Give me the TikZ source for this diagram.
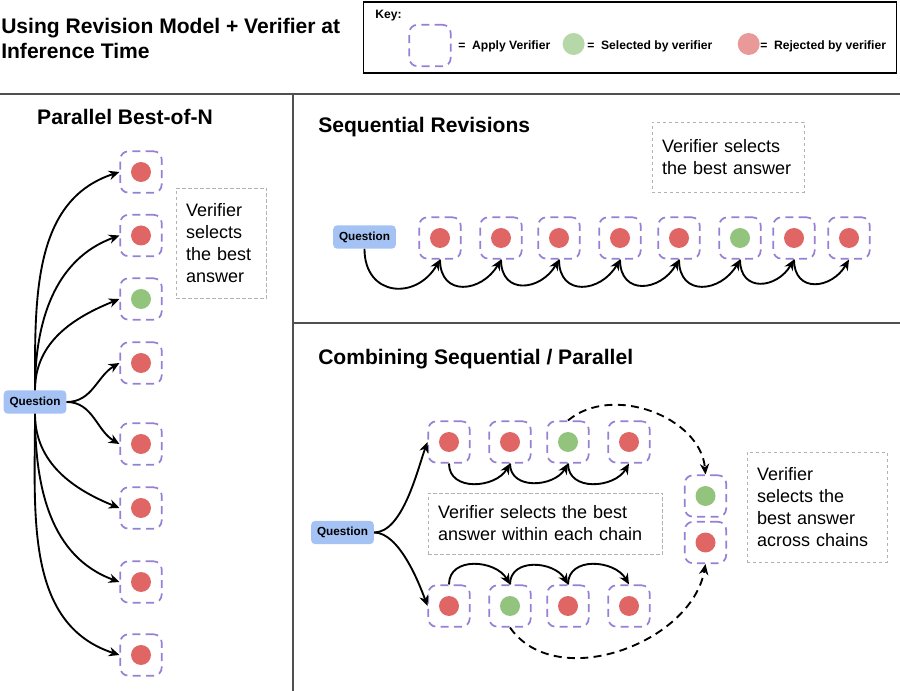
\documentclass[tikz,border=0pt]{standalone}
\usepackage{fontspec}
\setmainfont{Liberation Sans}
\usepackage{tikz}
\usetikzlibrary{arrows.meta}

\definecolor{vpurple}{RGB}{150,128,212}
\definecolor{rejred}{RGB}{224,102,102}
\definecolor{selgreen}{RGB}{147,196,125}
\definecolor{keyred}{RGB}{234,153,153}
\definecolor{keygreen}{RGB}{182,215,168}
\definecolor{qblue}{RGB}{164,194,244}
\definecolor{framegray}{RGB}{80,80,80}

\begin{document}
\begin{tikzpicture}[
    x=0.75pt, y=-0.75pt,
    vbox/.style={rectangle, draw=vpurple, line width=1.3pt, dash pattern=on 6pt off 4pt, rounded corners=6pt, minimum width=31pt, minimum height=31pt, inner sep=0pt},
    rej/.style={vbox, path picture={\fill[rejred] (path picture bounding box.center) circle (7.5pt);}},
    sel/.style={vbox, path picture={\fill[selgreen] (path picture bounding box.center) circle (7.5pt);}},
    question/.style={rectangle, fill=qblue, rounded corners=3pt, minimum width=47pt, minimum height=17.5pt, inner sep=0pt, font=\fontsize{8.8}{10}\selectfont\bfseries},
    note/.style={rectangle, draw=gray!60, line width=0.6pt, dash pattern=on 2.5pt off 2pt, align=left, inner xsep=7.5pt, font=\fontsize{13.5}{16.5}\selectfont},
    heading/.style={font=\fontsize{15.8}{18.75}\selectfont\bfseries, inner sep=0pt},
    keytext/.style={font=\fontsize{9.1}{11}\selectfont\bfseries, inner sep=0pt},
    frame/.style={draw=framegray, line width=1.1pt},
    arrow/.style={-{Stealth[length=8pt, width=7pt]}, line width=1.4pt},
    varrow/.style={arrow, dash pattern=on 6pt off 4pt}
]
\useasboundingbox (0,0) rectangle (900,691);

% title and key
\node[heading, align=left, anchor=north west] (title) at (1,18) {Using Revision Model + Verifier at\\Inference Time};
\draw[line width=0.8pt] (363.5,2) rectangle (896.5,73);
\node[keytext, anchor=base west] (key) at (375,19) {Key:};
\node[vbox] (kbox) at (430,45.5) {};
\node[keytext, anchor=base west] (kapply) at (458,50) {=~ Apply Verifier};
\node[circle, fill=keygreen, minimum size=16.5pt, inner sep=0pt] (kgreen) at (573.6,44) {};
\node[keytext, anchor=base west] (ksel) at (587,50) {=~ Selected by verifier};
\node[circle, fill=keyred, minimum size=16.5pt, inner sep=0pt] (kred) at (748.7,44) {};
\node[keytext, anchor=base west] (krej) at (760,50) {=~ Rejected by verifier};

% panels
\draw[frame] (0,94) -- (900,94);
\draw[frame] (293,94) -- (293,691);
\draw[frame] (293,323) -- (900,323);

% parallel best-of-n
\node[heading, anchor=base] (hp) at (125,125) {Parallel Best-of-N};
\node[question] (qp) at (35,402) {Question};
\node[rej] (p1) at (141,172) {};
\node[rej] (p2) at (141,235.5) {};
\node[sel] (p3) at (141,299) {};
\node[rej] (p4) at (141,363) {};
\node[rej] (p5) at (141,444) {};
\node[rej] (p6) at (141,508) {};
\node[rej] (p7) at (141,582) {};
\node[rej] (p8) at (141,655) {};
\node[note, text width=53pt, minimum height=82.5pt] (np) at (221.5,243) {Verifier\\selects\\the best\\answer};

\draw[arrow] (qp.north) to[out=90, in=198] (p1.west);
\draw[arrow] (qp.north) to[out=90, in=200] (p2.west);
\draw[arrow] (qp.north) to[out=90, in=202] (p3.west);
\draw[arrow] (qp.east) to[out=0, in=210] (p4.west);
\draw[arrow] (qp.east) to[out=0, in=150] (p5.west);
\draw[arrow] (qp.south) to[out=-90, in=158] (p6.west);
\draw[arrow] (qp.south) to[out=-90, in=160] (p7.west);
\draw[arrow] (qp.south) to[out=-90, in=162] (p8.west);

% sequential revisions
\node[heading, anchor=base west] (hs) at (318,133) {Sequential Revisions};
\node[note, text width=99pt, minimum height=52.5pt] (ns) at (728,157) {Verifier selects\\the best answer};
\node[question] (qs) at (364.5,237) {Question};
\node[rej] (s1) at (440,238) {};
\node[rej] (s2) at (501,238) {};
\node[rej] (s3) at (559,238) {};
\node[rej] (s4) at (620,238) {};
\node[rej] (s5) at (679,238) {};
\node[sel] (s6) at (740,238) {};
\node[rej] (s7) at (794,238) {};
\node[rej] (s8) at (849,238) {};

\draw[arrow] (qs.south) to[out=-90, in=-120, looseness=1.6] (s1.south);
\draw[arrow] (s1.south) to[out=-90, in=-120, looseness=1.6] (s2.south);
\draw[arrow] (s2.south) to[out=-90, in=-120, looseness=1.6] (s3.south);
\draw[arrow] (s3.south) to[out=-90, in=-120, looseness=1.6] (s4.south);
\draw[arrow] (s4.south) to[out=-90, in=-120, looseness=1.6] (s5.south);
\draw[arrow] (s5.south) to[out=-90, in=-120, looseness=1.6] (s6.south);
\draw[arrow] (s6.south) to[out=-90, in=-120, looseness=1.6] (s7.south);
\draw[arrow] (s7.south) to[out=-90, in=-120, looseness=1.6] (s8.south);

% combining sequential / parallel
\node[heading, anchor=base west] (hc) at (318,365) {Combining Sequential / Parallel};
\node[question] (qc) at (342.5,532.5) {Question};
\node[rej] (t1) at (449,442) {};
\node[rej] (t2) at (510,442) {};
\node[sel] (t3) at (568,442) {};
\node[rej] (t4) at (629,442) {};
\node[rej] (b1) at (449,606) {};
\node[sel] (b2) at (510,606) {};
\node[rej] (b3) at (568,606) {};
\node[rej] (b4) at (629,606) {};
\node[sel] (r1) at (705.5,496) {};
\node[rej] (r2) at (705.5,542.5) {};
\node[note, text width=161pt, minimum height=45.75pt] (nt) at (545.5,523.5) {Verifier selects the best\\answer within each chain};
\node[note, text width=90pt, minimum height=82.5pt] (nr) at (817,507) {Verifier\\selects the\\best answer\\across chains};

\draw[arrow] (qc.east) to[out=0, in=-110, looseness=0.7] (t1.west);
\draw[arrow] (qc.east) to[out=0, in=110, looseness=0.7] (b1.west);
\draw[arrow] (t1.south) to[out=-90, in=-120, looseness=1.2] (t2.south);
\draw[arrow] (t2.south) to[out=-90, in=-120, looseness=1.2] (t3.south);
\draw[arrow] (t3.south) to[out=-90, in=-120, looseness=1.2] (t4.south);
\draw[arrow] (b1.north) to[out=90, in=120, looseness=1.2] (b2.north);
\draw[arrow] (b2.north) to[out=90, in=120, looseness=1.2] (b3.north);
\draw[arrow] (b3.north) to[out=90, in=120, looseness=1.2] (b4.north);
\draw[varrow] (t3.north) to[out=40, in=95] (r1.north);
\draw[varrow] (b2.south) to[out=-55, in=-100] (r2.south);
\end{tikzpicture}
\end{document}
